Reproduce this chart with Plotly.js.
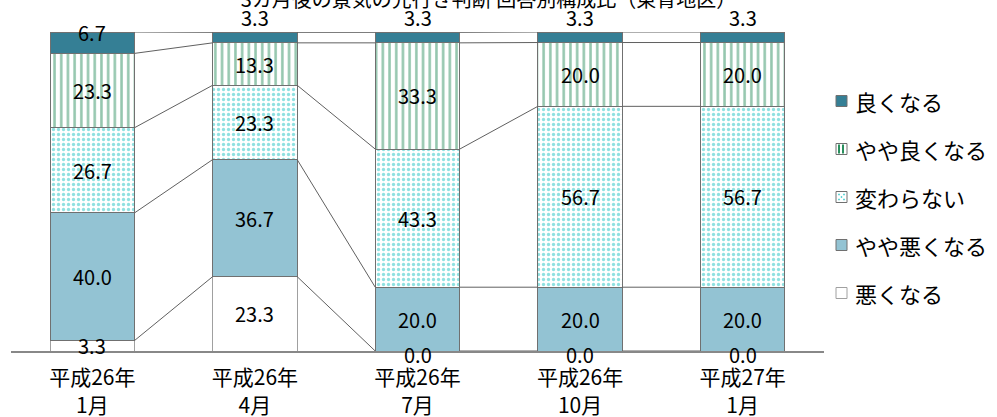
<!DOCTYPE html>
<html>
<head>
<meta charset="utf-8">
<script src="https://cdn.plot.ly/plotly-3.0.1.min.js"></script>
<style>html,body{margin:0;padding:0;background:#fff;}#chart{width:997px;height:417px;}</style>
</head>
<body>
<div id="chart"></div>
<script>
// ---- data ----
const categories = ['平成26年<br>1月', '平成26年<br>4月', '平成26年<br>7月', '平成26年<br>10月', '平成27年<br>1月'];
const seriesNames = ['悪くなる', 'やや悪くなる', '変わらない', 'やや良くなる', '良くなる'];
const worse      = [3.3, 23.3, 0.0, 0.0, 0.0];
const slightlyWorse = [40.0, 36.7, 20.0, 20.0, 20.0];
const unchanged  = [26.7, 23.3, 43.3, 56.7, 56.7];
const slightlyBetter = [23.3, 13.3, 33.3, 20.0, 20.0];
const better     = [6.7, 3.3, 3.3, 3.3, 3.3];
const titleText = '3カ月後の景気の先行き判断 回答別構成比（東青地区）';

// ---- styles ----
const FONT = '"Noto Sans CJK JP", "Noto Sans", sans-serif';
const BAR_W = 0.52;
const W = 997, H = 417;
const M = {l: 11, r: 173, t: 32, b: 66};
const lineStyle = {color: '#707070', width: 1};
const STRIPE = '#2A8F5E', DOT = '#22C4C4';
const markers = [
  {color: '#ffffff', line: {color: '#a0a0a0', width: 1}},
  {color: '#93C3D3', line: lineStyle},
  {color: '#ffffff', line: lineStyle, pattern: {shape: '.', fgcolor: DOT, bgcolor: '#ffffff', size: 5, solidity: 0.34, fillmode: 'overlay'}},
  {color: '#ffffff', line: lineStyle, pattern: {shape: '|', fgcolor: STRIPE, bgcolor: '#ffffff', size: 6.7, solidity: 0.38, fillmode: 'overlay'}},
  {color: '#357F95', line: lineStyle}
];
const seriesValues = [worse, slightlyWorse, unchanged, slightlyBetter, better];
const xs = categories.map((_, i) => i);

const traces = seriesValues.map((vals, k) => ({
  type: 'bar', name: seriesNames[k], x: xs, y: vals, width: BAR_W,
  marker: markers[k], showlegend: false, hoverinfo: 'skip'
}));

// cumulative tops
const cum = [];
let run = xs.map(() => 0);
seriesValues.forEach(vals => { run = run.map((r, i) => r + vals[i]); cum.push(run.slice()); });

// series connector lines
const lx = [], ly = [];
cum.forEach(c => {
  for (let i = 0; i < xs.length - 1; i++) {
    lx.push(xs[i] + BAR_W / 2, xs[i + 1] - BAR_W / 2, null);
    ly.push(c[i], c[i + 1], null);
  }
});
traces.push({type: 'scatter', mode: 'lines', x: lx, y: ly, line: {color: '#606060', width: 1}, showlegend: false, hoverinfo: 'skip', connectgaps: false});

// data labels
const annotations = [];
seriesValues.forEach((vals, k) => {
  vals.forEach((v, i) => {
    const top = cum[k][i];
    const bottom = top - v;
    let y = (top + bottom) / 2, yanchor = 'middle', yshift = 0;
    if (k === seriesValues.length - 1) {
      y = 100;
      if (v < 5) { yanchor = 'bottom'; yshift = -2; }
    }
    if (v === 0) yshift = -3;
    annotations.push({x: xs[i], y: y, xref: 'x', yref: 'y', text: v.toFixed(1), showarrow: false,
      yanchor: yanchor, yshift: yshift, font: {family: FONT, size: 20, color: '#000'}});
  });
});

// ---- manual legend (top item = top of stack) ----
const PW = W - M.l - M.r, PH = H - M.t - M.b;
const px2x = p => (p - M.l) / PW;
const px2y = p => (H - M.b - p) / PH;
const shapes = [];
const LEG_X = 836, LEG_SYM = 11, LEG_TEXT_X = 853, LEG_Y0 = 101, LEG_DY = 48;
seriesNames.slice().reverse().forEach((name, j) => {
  const k = seriesNames.length - 1 - j;
  const cy = LEG_Y0 + j * LEG_DY;
  const x0 = LEG_X, x1 = LEG_X + LEG_SYM, y0 = cy - LEG_SYM / 2, y1 = cy + LEG_SYM / 2;
  const mk = markers[k];
  shapes.push({type: 'rect', xref: 'paper', yref: 'paper', x0: px2x(x0), x1: px2x(x1), y0: px2y(y1), y1: px2y(y0),
    fillcolor: mk.color, line: {color: mk.line.color, width: 1}});
  if (mk.pattern && mk.pattern.shape === '|') {
    [3, 7].forEach(o => shapes.push({type: 'line', xref: 'paper', yref: 'paper', x0: px2x(x0 + o), x1: px2x(x0 + o),
      y0: px2y(y1 - 1), y1: px2y(y0 + 1), line: {color: STRIPE, width: 2}}));
  }
  if (mk.pattern && mk.pattern.shape === '.') {
    [[3, 3], [8, 3], [5.5, 5.5], [3, 8], [8, 8]].forEach(([dx, dy]) => shapes.push({type: 'rect', xref: 'paper', yref: 'paper',
      x0: px2x(x0 + dx - 0.7), x1: px2x(x0 + dx + 0.7), y0: px2y(y0 + dy + 0.7), y1: px2y(y0 + dy - 0.7),
      fillcolor: DOT, line: {width: 0}}));
  }
  annotations.push({xref: 'paper', yref: 'paper', x: px2x(LEG_TEXT_X), y: px2y(cy), xanchor: 'left', yanchor: 'middle',
    text: name, showarrow: false, font: {family: FONT, size: 22, color: '#000'}});
});

const layout = {
  width: W, height: H,
  margin: M,
  paper_bgcolor: '#fff', plot_bgcolor: '#fff',
  barmode: 'stack',
  font: {family: FONT, color: '#000'},
  title: {text: titleText, x: 0.49, xanchor: 'center', y: 0.999, yref: 'container', yanchor: 'middle', font: {family: FONT, size: 20, color: '#000'}},
  xaxis: {range: [-0.5, 4.5], tickvals: xs, ticktext: categories, showline: true, linecolor: '#888', linewidth: 2,
    ticks: '', ticklabelstandoff: 7, showgrid: false, zeroline: false, tickfont: {family: FONT, size: 21, color: '#000'}},
  yaxis: {range: [0, 100], visible: false, showgrid: false, zeroline: false},
  showlegend: false,
  shapes: shapes,
  annotations: annotations
};

Plotly.newPlot('chart', traces, layout, {displayModeBar: false, staticPlot: true});
</script>
</body>
</html>
